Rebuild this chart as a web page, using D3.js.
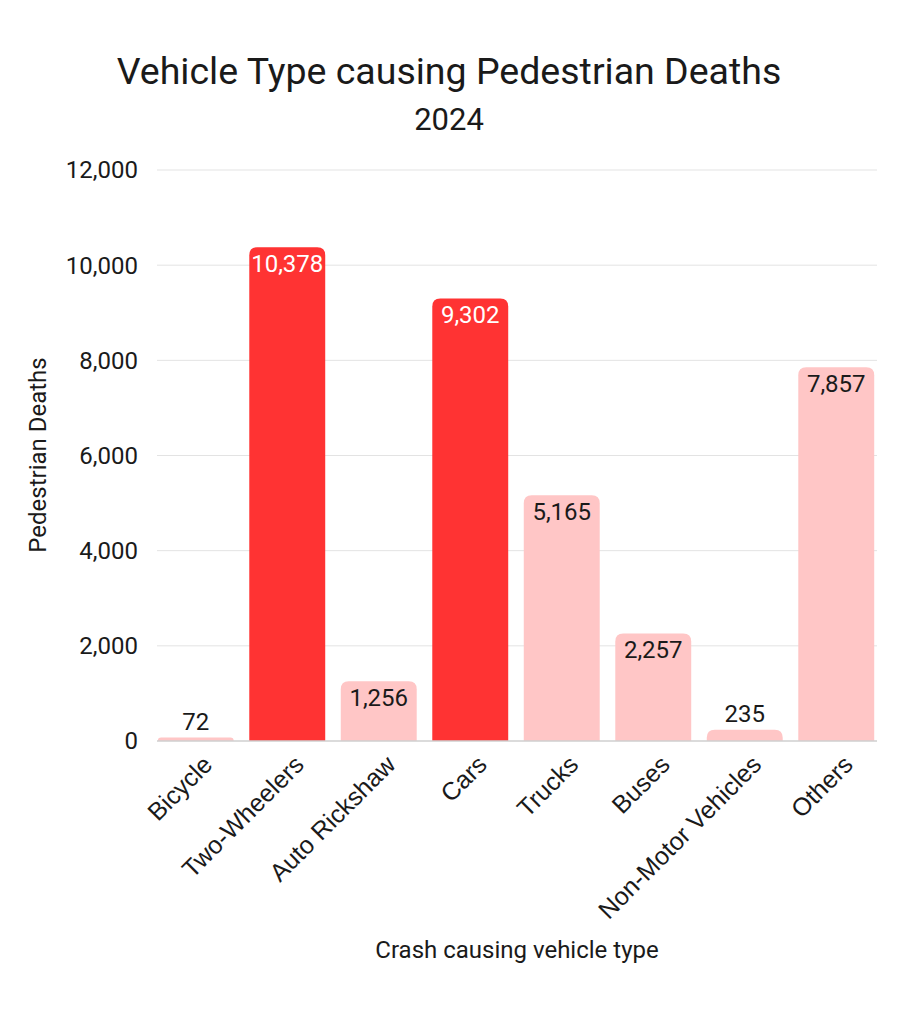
<!DOCTYPE html>
<html>
<head>
<meta charset="utf-8">
<script src="https://cdn.jsdelivr.net/npm/d3@7"></script>
<style>
  html, body { margin: 0; padding: 0; background: #fff; }
  #chart { width: 923px; height: 1024px; }
  text { font-family: Roboto, "Noto Sans", sans-serif; fill: #1a1a1a; }
</style>
</head>
<body>
<div id="chart"></div>
<script>
const categories = ['Bicycle','Two-Wheelers','Auto Rickshaw','Cars','Trucks','Buses','Non-Motor Vehicles','Others'];
const deaths = [72, 10378, 1256, 9302, 5165, 2257, 235, 7857];
const highlighted = ['Two-Wheelers','Cars'];
const yTicks = [0, 2000, 4000, 6000, 8000, 10000, 12000];

const data = categories.map((c, i) => ({ cat: c, value: deaths[i] }));

const width = 923, height = 1024;
const svg = d3.select('#chart').append('svg').attr('width', width).attr('height', height);

const x = d3.scaleBand().domain(categories).range([150, 882]).paddingInner(0.17).paddingOuter(0.085);
const y = d3.scaleLinear().domain([0, 12000]).range([741, 170]);

// gridlines
svg.append('g').selectAll('line').data(yTicks.slice(1)).enter().append('line')
  .attr('x1', 157).attr('x2', 877)
  .attr('y1', d => y(d)).attr('y2', d => y(d))
  .attr('stroke', '#e3e3e3').attr('stroke-width', 1);

// y tick labels
svg.append('g').selectAll('text').data(yTicks).enter().append('text')
  .attr('x', 138).attr('y', d => y(d)).attr('dy', '0.35em')
  .attr('text-anchor', 'end').attr('font-size', 24)
  .text(d => d3.format(',')(d));

// bars with rounded tops
const r = 8;
function barPath(d) {
  const x0 = x(d.cat), w = x.bandwidth(), y0 = y(d.value), yb = y(0);
  const rr = Math.min(r, (yb - y0), w / 2);
  return `M${x0},${yb}V${y0 + rr}Q${x0},${y0} ${x0 + rr},${y0}H${x0 + w - rr}Q${x0 + w},${y0} ${x0 + w},${y0 + rr}V${yb}Z`;
}
svg.append('g').selectAll('path').data(data).enter().append('path')
  .attr('d', barPath)
  .attr('fill', d => highlighted.includes(d.cat) ? '#ff3333' : '#ffc6c6');

// baseline
svg.append('line').attr('x1', 157).attr('x2', 877).attr('y1', y(0)).attr('y2', y(0))
  .attr('stroke', '#cfcfcf').attr('stroke-width', 1.5);

// value labels
svg.append('g').selectAll('text').data(data).enter().append('text')
  .attr('x', d => x(d.cat) + x.bandwidth() / 2)
  .attr('y', d => d.value > 800 ? y(d.value) + 16 : y(d.value) - 16)
  .attr('dy', '0.35em')
  .attr('text-anchor', 'middle').attr('font-size', 24)
  .style('fill', d => highlighted.includes(d.cat) ? '#ffffff' : '#1a1a1a')
  .text(d => d3.format(',')(d.value));

// category labels
svg.append('g').selectAll('text').data(categories).enter().append('text')
  .attr('transform', d => `translate(${x(d) + x.bandwidth() / 2 + 12},${760}) rotate(-45)`)
  .attr('text-anchor', 'end').attr('dy', '0.35em')
  .attr('font-size', 25)
  .style('font-family', '"Liberation Sans", Arial, sans-serif')
  .text(d => d);

// titles
svg.append('text').attr('x', 449).attr('y', 84).attr('text-anchor', 'middle')
  .attr('font-size', 37.5).text('Vehicle Type causing Pedestrian Deaths');
svg.append('text').attr('x', 449).attr('y', 130).attr('text-anchor', 'middle')
  .attr('font-size', 31).text('2024');

svg.append('text').attr('transform', 'translate(46,455) rotate(-90)')
  .attr('text-anchor', 'middle').attr('font-size', 24).text('Pedestrian Deaths');
svg.append('text').attr('x', 517).attr('y', 958).attr('text-anchor', 'middle')
  .attr('font-size', 24).text('Crash causing vehicle type');
</script>
</body>
</html>
